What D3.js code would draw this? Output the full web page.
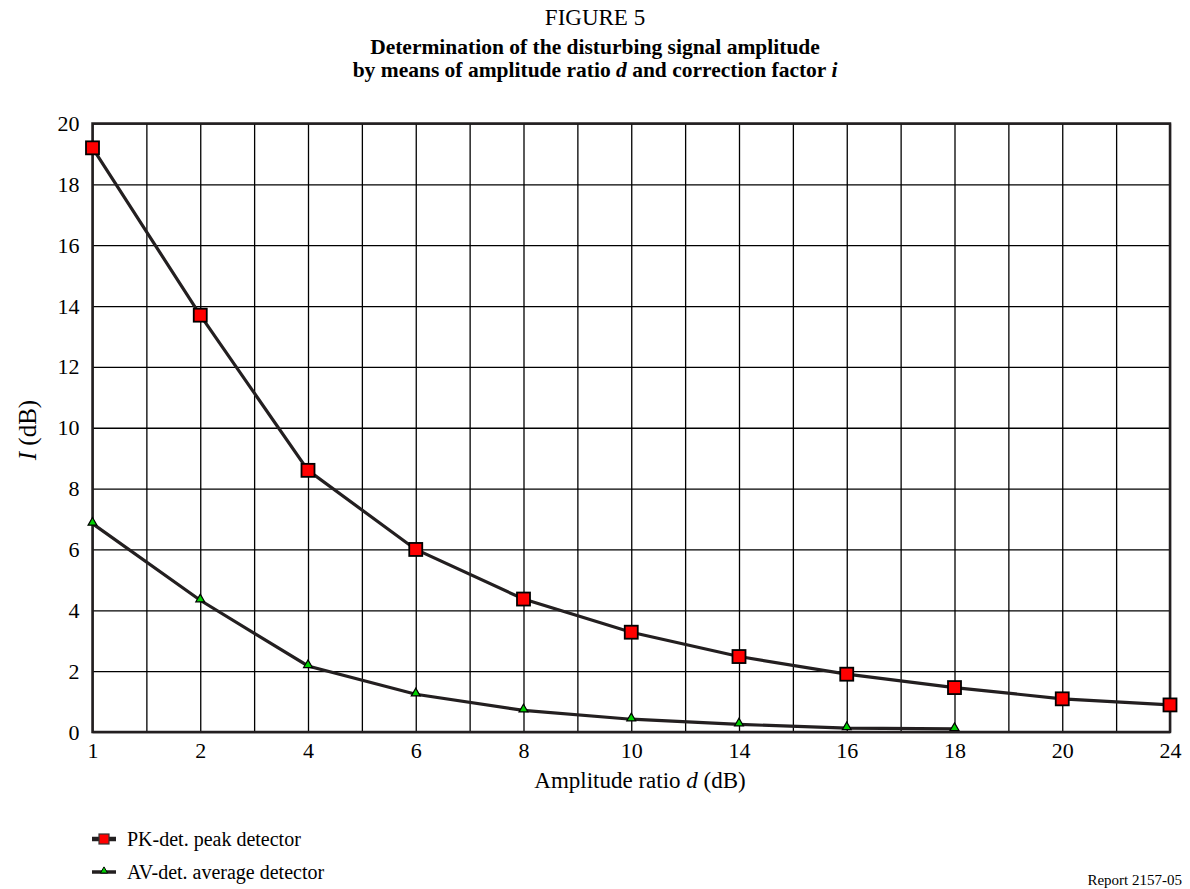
<!DOCTYPE html>
<html>
<head>
<meta charset="utf-8">
<script src="https://cdn.jsdelivr.net/npm/d3@7"></script>
<style>
  body { margin: 0; background: #fff; }
  svg { font-family: "Liberation Serif", "Times New Roman", serif; }
</style>
</head>
<body>
<svg width="1190" height="889"></svg>
<script>
// x categories (amplitude ratio d, dB) - equally spaced on the chart
const ratioLabels = ['1', '2', '4', '6', '8', '10', '14', '16', '18', '20', '24'];
// PK-det. peak detector
const peakValues = [19.2, 13.7, 8.6, 6.0, 4.37, 3.28, 2.48, 1.9, 1.46, 1.09, 0.89];
// AV-det. average detector (no value at 20 and 24)
const avgValues = [6.85, 4.33, 2.17, 1.24, 0.71, 0.42, 0.25, 0.13, 0.1];
const yTicks = [0, 2, 4, 6, 8, 10, 12, 14, 16, 18, 20];

const svg = d3.select('svg');
const margin = { top: 123.5, left: 92.5 };
const width = 1170 - margin.left;
const height = 732 - margin.top;
const lineColor = '#231f20';

const g = svg.append('g')
    .attr('transform', `translate(${margin.left},${margin.top})`);

const x = d3.scaleLinear().domain([0, ratioLabels.length - 1]).range([0, width]);
const y = d3.scaleLinear().domain([0, 20]).range([height, 0]);

// grid: vertical lines at every half step
g.append('g')
    .attr('class', 'grid-x')
    .call(d3.axisBottom(x).tickValues(d3.range(0, ratioLabels.length - 0.5, 0.5)).tickSize(height).tickFormat(''))
    .call(a => a.select('.domain').remove())
    .selectAll('line').attr('stroke', '#000').attr('stroke-width', 1.3);

g.append('g')
    .attr('class', 'grid-y')
    .call(d3.axisLeft(y).tickValues(yTicks).tickSize(-width).tickFormat(''))
    .call(a => a.select('.domain').remove())
    .selectAll('line').attr('stroke', '#000').attr('stroke-width', 1.3);

// frame
g.append('rect')
    .attr('width', width).attr('height', height)
    .attr('fill', 'none').attr('stroke', lineColor).attr('stroke-width', 2.5);

// tick labels
const xAxis = g.append('g')
    .attr('transform', `translate(0,${height})`)
    .call(d3.axisBottom(x).tickValues(d3.range(ratioLabels.length)).tickSize(0).tickPadding(10).tickFormat(i => ratioLabels[i]));
xAxis.select('.domain').remove();
xAxis.selectAll('text').attr('font-size', 22).attr('fill', '#000')
    .attr('font-family', '"Liberation Serif", serif');

const yAxis = g.append('g')
    .call(d3.axisLeft(y).tickValues(yTicks).tickSize(0).tickPadding(13));
yAxis.select('.domain').remove();
yAxis.selectAll('text').attr('font-size', 22).attr('fill', '#000')
    .attr('font-family', '"Liberation Serif", serif');

// lines
const line = d3.line().x((d, i) => x(i)).y(d => y(d));

g.append('path').datum(avgValues)
    .attr('fill', 'none').attr('stroke', lineColor).attr('stroke-width', 3.2)
    .attr('d', line);
g.append('path').datum(peakValues)
    .attr('fill', 'none').attr('stroke', lineColor).attr('stroke-width', 3.2)
    .attr('d', line);

// markers
const tri = d3.symbol().type(d3.symbolTriangle).size(34);
g.selectAll('.av').data(avgValues).enter().append('path')
    .attr('class', 'av')
    .attr('transform', (d, i) => `translate(${x(i)},${y(d) - 1})`)
    .attr('d', tri)
    .attr('fill', '#00d000').attr('stroke', '#000').attr('stroke-width', 1.2);

g.selectAll('.pk').data(peakValues).enter().append('rect')
    .attr('class', 'pk')
    .attr('x', (d, i) => x(i) - 6.5)
    .attr('y', d => y(d) - 6.5)
    .attr('width', 13).attr('height', 13)
    .attr('fill', '#ff0000').attr('stroke', '#000').attr('stroke-width', 1.8);

// titles
svg.append('text').attr('x', 595).attr('y', 25).attr('text-anchor', 'middle')
    .attr('font-size', 23).text('FIGURE 5');

svg.append('text').attr('x', 595).attr('y', 54).attr('text-anchor', 'middle')
    .attr('font-size', 21.5).attr('font-weight', 'bold')
    .text('Determination of the disturbing signal amplitude');

const t2 = svg.append('text').attr('x', 595).attr('y', 77).attr('text-anchor', 'middle')
    .attr('font-size', 21.5).attr('font-weight', 'bold');
t2.append('tspan').text('by means of amplitude ratio ');
t2.append('tspan').attr('font-style', 'italic').text('d');
t2.append('tspan').text(' and correction factor ');
t2.append('tspan').attr('font-style', 'italic').text('i');

// y title
const yt = svg.append('text')
    .attr('transform', 'translate(36,430) rotate(-90)')
    .attr('text-anchor', 'middle').attr('font-size', 25);
yt.append('tspan').attr('font-style', 'italic').text('I');
yt.append('tspan').text(' (dB)');

// x title
const xt = svg.append('text').attr('x', 640).attr('y', 788)
    .attr('text-anchor', 'middle').attr('font-size', 23);
xt.append('tspan').text('Amplitude ratio ');
xt.append('tspan').attr('font-style', 'italic').text('d');
xt.append('tspan').text(' (dB)');

// legend
const legendItems = [
    { name: 'PK-det. peak detector', type: 'pk' },
    { name: 'AV-det. average detector', type: 'av' }
];
const legend = svg.append('g').attr('transform', 'translate(92,839)');
const item = legend.selectAll('.legend-item').data(legendItems).enter().append('g')
    .attr('class', 'legend-item')
    .attr('transform', (d, i) => `translate(0,${i * 33})`);
item.append('line').attr('x1', 0).attr('x2', 24).attr('y1', 0).attr('y2', 0)
    .attr('stroke', lineColor).attr('stroke-width', d => d.type === 'pk' ? 4.5 : 3.5);
item.filter(d => d.type === 'pk').append('rect')
    .attr('x', 7).attr('y', -5).attr('width', 10).attr('height', 10)
    .attr('fill', '#ff0000').attr('stroke', '#333').attr('stroke-width', 1.2);
item.filter(d => d.type === 'av').append('path')
    .attr('transform', 'translate(12,-1)')
    .attr('d', d3.symbol().type(d3.symbolTriangle).size(22))
    .attr('fill', '#00d000').attr('stroke', '#000').attr('stroke-width', 1);
item.append('text').attr('x', 35).attr('y', 7).attr('font-size', 20).text(d => d.name);

// figure reference
svg.append('text').attr('x', 1182).attr('y', 885).attr('text-anchor', 'end')
    .attr('font-size', 15).text('Report 2157-05');
</script>
</body>
</html>
